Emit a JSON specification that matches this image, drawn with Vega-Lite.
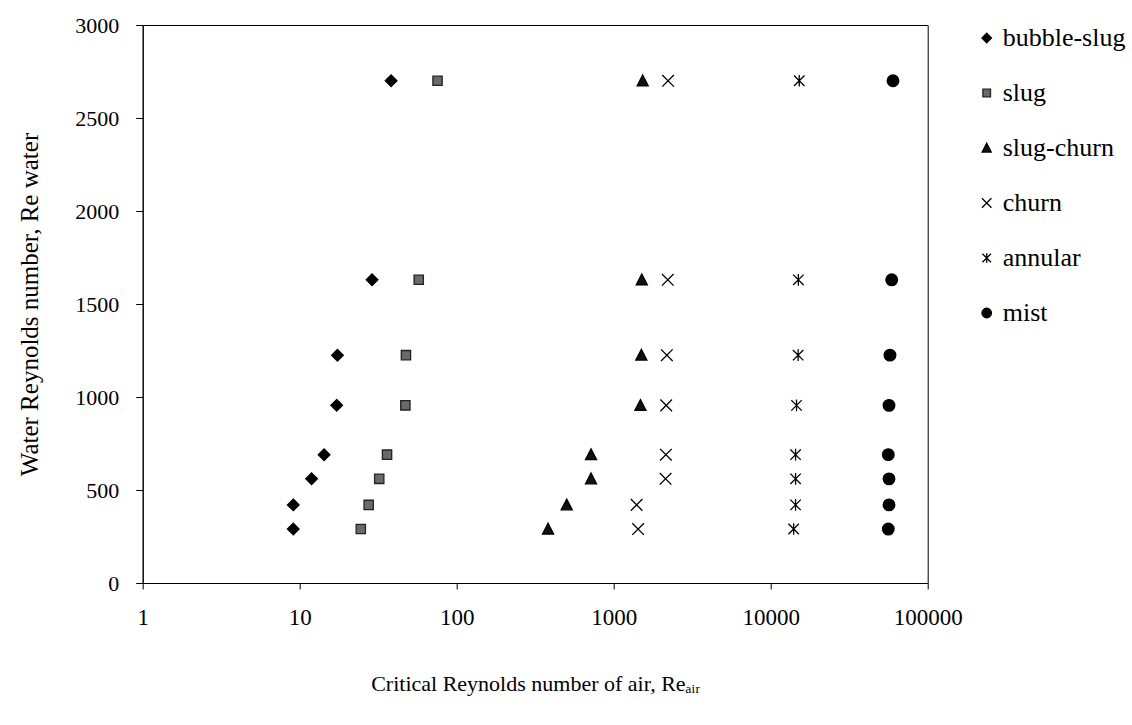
{
  "$schema": "https://vega.github.io/schema/vega-lite/v6.json",
  "width": 785,
  "height": 558,
  "autosize": {"type": "none"},
  "padding": {"left": 142.7, "top": 25, "right": 204.3, "bottom": 142},
  "background": "white",
  "config": {
    "font": "Liberation Serif",
    "view": {"stroke": "black", "strokeWidth": 1},
    "axis": {
      "domainColor": "black",
      "tickColor": "black",
      "labelColor": "black",
      "titleColor": "black",
      "labelFont": "Liberation Serif",
      "titleFont": "Liberation Serif",
      "titleFontWeight": "normal",
      "grid": false
    },
    "legend": {
      "labelFont": "Liberation Serif, Times New Roman, serif",
      "labelColor": "black"
    }
  },
  "data": {
    "values": [
      {"Re_air": 38.2, "Re_water": 2700, "regime": "bubble-slug"},
      {"Re_air": 28.9, "Re_water": 1630, "regime": "bubble-slug"},
      {"Re_air": 17.4, "Re_water": 1225, "regime": "bubble-slug"},
      {"Re_air": 17.2, "Re_water": 955, "regime": "bubble-slug"},
      {"Re_air": 14.3, "Re_water": 690, "regime": "bubble-slug"},
      {"Re_air": 11.9, "Re_water": 560, "regime": "bubble-slug"},
      {"Re_air": 9.1, "Re_water": 420, "regime": "bubble-slug"},
      {"Re_air": 9.1, "Re_water": 290, "regime": "bubble-slug"},
      {"Re_air": 75.5, "Re_water": 2700, "regime": "slug"},
      {"Re_air": 57.3, "Re_water": 1630, "regime": "slug"},
      {"Re_air": 47.5, "Re_water": 1225, "regime": "slug"},
      {"Re_air": 47.1, "Re_water": 955, "regime": "slug"},
      {"Re_air": 36.0, "Re_water": 690, "regime": "slug"},
      {"Re_air": 32.1, "Re_water": 560, "regime": "slug"},
      {"Re_air": 27.5, "Re_water": 420, "regime": "slug"},
      {"Re_air": 24.5, "Re_water": 290, "regime": "slug"},
      {"Re_air": 1530, "Re_water": 2700, "regime": "slug-churn"},
      {"Re_air": 1510, "Re_water": 1630, "regime": "slug-churn"},
      {"Re_air": 1500, "Re_water": 1225, "regime": "slug-churn"},
      {"Re_air": 1480, "Re_water": 955, "regime": "slug-churn"},
      {"Re_air": 717, "Re_water": 690, "regime": "slug-churn"},
      {"Re_air": 717, "Re_water": 560, "regime": "slug-churn"},
      {"Re_air": 502, "Re_water": 420, "regime": "slug-churn"},
      {"Re_air": 382, "Re_water": 290, "regime": "slug-churn"},
      {"Re_air": 2220, "Re_water": 2700, "regime": "churn"},
      {"Re_air": 2210, "Re_water": 1630, "regime": "churn"},
      {"Re_air": 2180, "Re_water": 1225, "regime": "churn"},
      {"Re_air": 2160, "Re_water": 955, "regime": "churn"},
      {"Re_air": 2150, "Re_water": 690, "regime": "churn"},
      {"Re_air": 2140, "Re_water": 560, "regime": "churn"},
      {"Re_air": 1400, "Re_water": 420, "regime": "churn"},
      {"Re_air": 1430, "Re_water": 290, "regime": "churn"},
      {"Re_air": 15200, "Re_water": 2700, "regime": "annular"},
      {"Re_air": 15000, "Re_water": 1630, "regime": "annular"},
      {"Re_air": 14950, "Re_water": 1225, "regime": "annular"},
      {"Re_air": 14600, "Re_water": 955, "regime": "annular"},
      {"Re_air": 14400, "Re_water": 690, "regime": "annular"},
      {"Re_air": 14400, "Re_water": 560, "regime": "annular"},
      {"Re_air": 14400, "Re_water": 420, "regime": "annular"},
      {"Re_air": 14000, "Re_water": 290, "regime": "annular"},
      {"Re_air": 60100, "Re_water": 2700, "regime": "mist"},
      {"Re_air": 59000, "Re_water": 1630, "regime": "mist"},
      {"Re_air": 57500, "Re_water": 1225, "regime": "mist"},
      {"Re_air": 56700, "Re_water": 955, "regime": "mist"},
      {"Re_air": 56100, "Re_water": 690, "regime": "mist"},
      {"Re_air": 56700, "Re_water": 560, "regime": "mist"},
      {"Re_air": 56700, "Re_water": 420, "regime": "mist"},
      {"Re_air": 56100, "Re_water": 290, "regime": "mist"}
    ]
  },
  "mark": {"type": "point", "filled": true, "size": 135, "strokeWidth": 1.3, "opacity": 1},
  "encoding": {
    "x": {
      "field": "Re_air",
      "type": "quantitative",
      "scale": {"type": "log", "domain": [1, 100000], "nice": false},
      "axis": {
        "values": [1, 10, 100, 1000, 10000, 100000],
        "format": "d",
        "labelFontSize": 23,
        "tickSize": 6,
        "labelPadding": 17,
        "labelFlush": false,
        "titleFontSize": 22,
        "titlePadding": 44,
        "title": "Critical  Reynolds number of air, Reₐᵢᵣ"
      }
    },
    "y": {
      "field": "Re_water",
      "type": "quantitative",
      "scale": {"domain": [0, 3000], "nice": false, "zero": true},
      "axis": {
        "values": [0, 500, 1000, 1500, 2000, 2500, 3000],
        "format": "d",
        "labelFontSize": 22,
        "tickSize": 7,
        "labelPadding": 17,
        "labelFlush": false,
        "titleFontSize": 25,
        "titlePadding": 32,
        "title": "Water Reynolds number, Re water"
      }
    },
    "shape": {
      "field": "regime",
      "type": "nominal",
      "scale": {
        "domain": ["bubble-slug", "slug", "slug-churn", "churn", "annular", "mist"],
        "range": [
          "M0,-1L1,0L0,1L-1,0Z",
          "M-0.8,-0.8L0.8,-0.8L0.8,0.8L-0.8,0.8Z",
          "M0,-1L0.95,0.85L-0.95,0.85Z",
          "M-1,-1L1,1M-1,1L1,-1",
          "M-0.9,-0.9L0.9,0.9M-0.9,0.9L0.9,-0.9M0,-1L0,1",
          "circle"
        ]
      },
      "legend": {
        "title": null,
        "orient": "right",
        "offset": 46,
        "labelFont": "Liberation Serif, Times New Roman, serif",
        "labelFontSize": 26,
        "labelColor": "black",
        "rowPadding": 29,
        "symbolSize": 90,
        "labelOffset": 3,
        "symbolStrokeWidth": 1.3,
        "labelLimit": 300
      }
    },
    "fill": {
      "field": "regime",
      "type": "nominal",
      "scale": {
        "domain": ["bubble-slug", "slug", "slug-churn", "churn", "annular", "mist"],
        "range": ["#000000", "#6a6a6a", "#111111", "#000000", "#000000", "#000000"]
      }
    },
    "stroke": {
      "field": "regime",
      "type": "nominal",
      "scale": {
        "domain": ["bubble-slug", "slug", "slug-churn", "churn", "annular", "mist"],
        "range": ["#000000", "#222222", "#000000", "#000000", "#000000", "#000000"]
      }
    }
  }
}
